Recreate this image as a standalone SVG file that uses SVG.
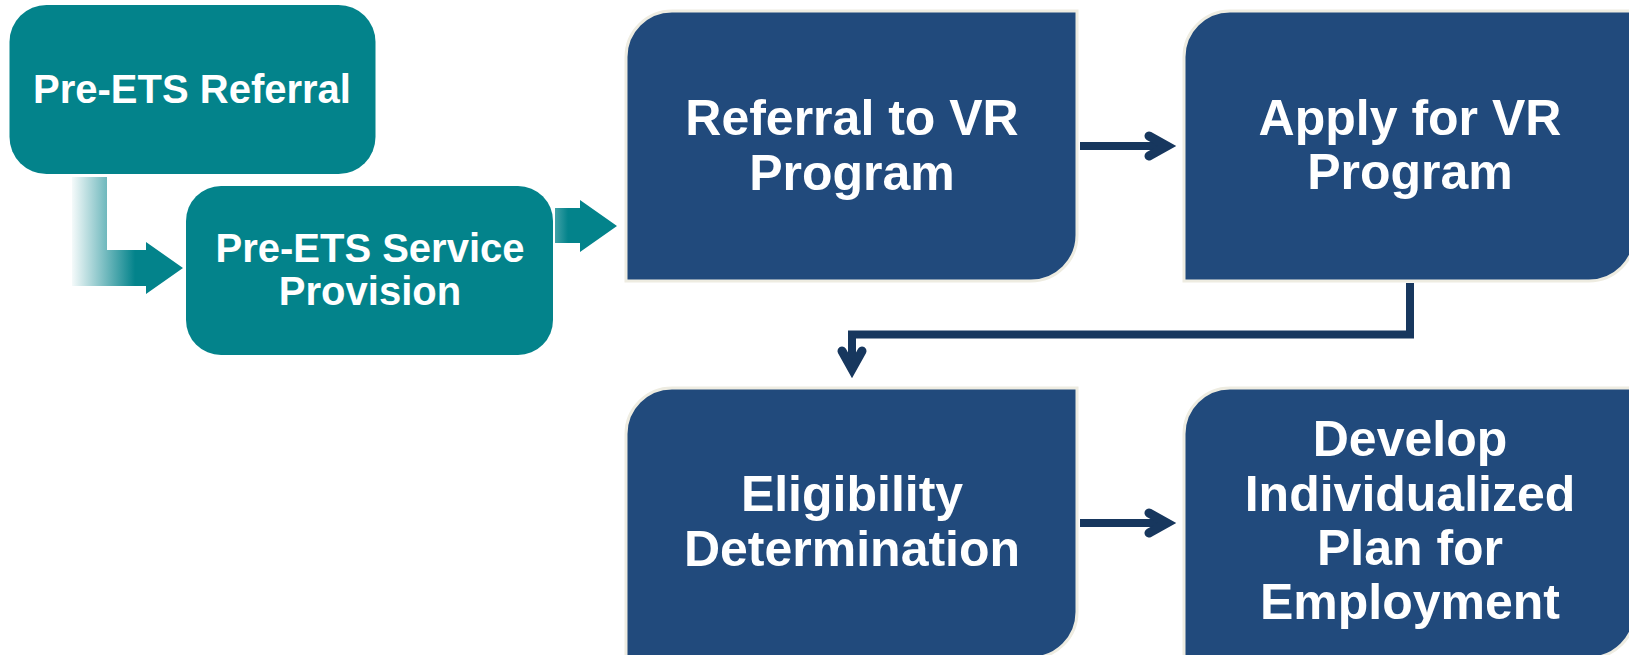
<svg xmlns="http://www.w3.org/2000/svg" width="1629" height="655" viewBox="0 0 1629 655">
  <defs>
    <style>
      .teal { fill: #03838B; }
      .navy { fill: #214A7C; stroke: #EEECE1; stroke-width: 3; }
      .tl { font-family: "Liberation Sans", Arial, sans-serif; font-weight: bold; font-size: 40px; fill: #FFFFFF; text-anchor: middle; }
      .nl { font-family: "Liberation Sans", Arial, sans-serif; font-weight: bold; font-size: 50px; fill: #FFFFFF; text-anchor: middle; }
      .conn { fill: none; stroke: #17375E; stroke-width: 8; stroke-linejoin: miter; }
    </style>
    <linearGradient id="fade1" gradientUnits="userSpaceOnUse" x1="72" y1="0" x2="135" y2="0">
      <stop offset="0" stop-color="#03838B" stop-opacity="0.04"/>
      <stop offset="1" stop-color="#03838B" stop-opacity="1"/>
    </linearGradient>
    <linearGradient id="fade2" gradientUnits="userSpaceOnUse" x1="555" y1="0" x2="568" y2="0">
      <stop offset="0" stop-color="#03838B" stop-opacity="0.75"/>
      <stop offset="1" stop-color="#03838B" stop-opacity="1"/>
    </linearGradient>
    <marker id="chev" markerUnits="userSpaceOnUse" orient="auto" overflow="visible" refX="0" refY="0" markerWidth="1" markerHeight="1">
      <path d="M-18,-10 L0,0 L-18,10" fill="none" stroke="#17375E" stroke-width="9" stroke-linecap="round" stroke-linejoin="miter"/>
    </marker>
  </defs>

  <g id="connectors">
    <path id="c-referral-service" d="M72,177 H107 V250 H146 V242 L183,268 L146,294 V286 H72 Z" fill="url(#fade1)"/>
    <path id="c-service-vr" d="M555,208 H580 V200 L617,226 L580,252 V243 H555 Z" fill="url(#fade2)"/>
    <path id="c-vr-apply" class="conn" d="M1080,146 H1167" marker-end="url(#chev)"/>
    <path id="c-apply-elig" class="conn" d="M1410,283 V334.5 H852 V369" marker-end="url(#chev)"/>
    <path id="c-elig-develop" class="conn" d="M1080,523 H1167" marker-end="url(#chev)"/>
  </g>

  <g id="node-pre-ets-referral">
    <rect class="teal" x="9.5" y="5" width="366" height="169" rx="37" ry="37"/>
    <text class="tl" x="192" y="103">Pre-ETS Referral</text>
  </g>

  <g id="node-pre-ets-service">
    <rect class="teal" x="186" y="186" width="367" height="169" rx="35" ry="35"/>
    <text class="tl" x="370" y="262">Pre-ETS Service</text>
    <text class="tl" x="370" y="305">Provision</text>
  </g>

  <g id="node-referral-vr">
    <path class="navy" d="M672,11 H1077 V235 A46,46 0 0 1 1031,281 H626 V57 A46,46 0 0 1 672,11 Z"/>
    <text class="nl" x="852" y="135">Referral to VR</text>
    <text class="nl" x="852" y="190">Program</text>
  </g>

  <g id="node-apply-vr">
    <path class="navy" d="M1230,11 H1635 V235 A46,46 0 0 1 1589,281 H1184 V57 A46,46 0 0 1 1230,11 Z"/>
    <text class="nl" x="1410" y="135">Apply for VR</text>
    <text class="nl" x="1410" y="189">Program</text>
  </g>

  <g id="node-eligibility">
    <path class="navy" d="M672,388 H1077 V612 A46,46 0 0 1 1031,658 H626 V434 A46,46 0 0 1 672,388 Z"/>
    <text class="nl" x="852" y="511">Eligibility</text>
    <text class="nl" x="852" y="566">Determination</text>
  </g>

  <g id="node-develop-ipe">
    <path class="navy" d="M1230,388 H1635 V612 A46,46 0 0 1 1589,658 H1184 V434 A46,46 0 0 1 1230,388 Z"/>
    <text class="nl" x="1410" y="456">Develop</text>
    <text class="nl" x="1410" y="511">Individualized</text>
    <text class="nl" x="1410" y="565">Plan for</text>
    <text class="nl" x="1410" y="619">Employment</text>
  </g>
</svg>
